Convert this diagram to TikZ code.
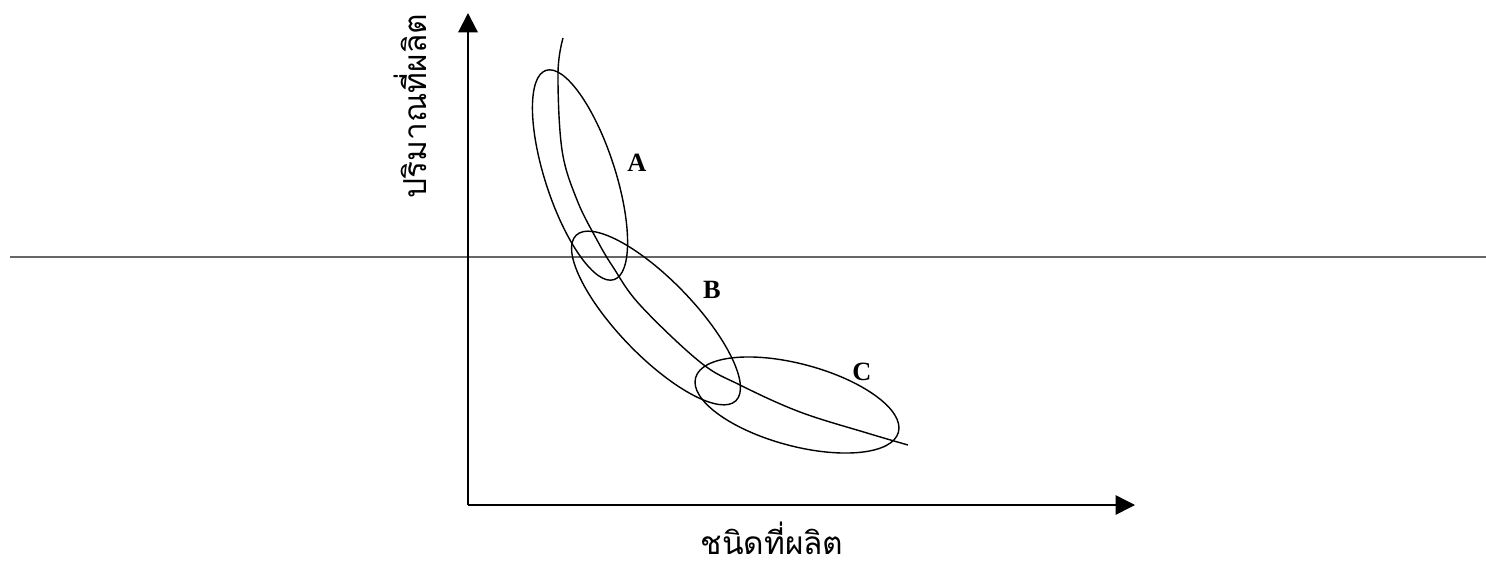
\documentclass[tikz,border=0pt]{standalone}
\usepackage{fontspec}
\setmainfont{Liberation Serif}
\newfontfamily\thaifont[Script=Thai]{Loma}
\usetikzlibrary{arrows.meta}

\begin{document}
\begin{tikzpicture}[x=0.02cm, y=-0.02cm,
    axis/.style={line width=1.2pt, -{Triangle[length=11pt, width=11pt]}},
    lot/.style={line width=0.8pt},
    lotname/.style={font=\bfseries\fontsize{15}{15}\selectfont, inner sep=0pt},
    axisname/.style={font=\thaifont\fontsize{18}{18}\selectfont, inner sep=0pt}]
  \useasboundingbox (0,0) rectangle (1486,568);
  % scan line
  \draw[black!60, line width=1.1pt] (10,257) -- (1486,257);
  % axes
  \coordinate (origin) at (468,505);
  \coordinate (ytip) at (468,13);
  \coordinate (xtip) at (1135,505);
  \draw[axis] (origin) -- (ytip);
  \draw[axis, line width=0.8pt] (origin) -- (xtip);
  \node[axisname, rotate=90] (qty) at (410,106) {ปริมาณที่ผลิต};
  \node[axisname] (kind) at (772,538) {ชนิดที่ผลิต};
  % production curve
  \draw[lot] plot[smooth, tension=0.6] coordinates {(563,38) (558,73) (562,150) (577,200) (597,240) (613,267) (640,305) (700,362) (740,385) (800,412) (867,433) (908,445)};
  % groups
  \draw[lot, rotate around={108:(580,175)}] (580,175) ellipse (110 and 35);
  \draw[lot, rotate around={-46:(656,318)}] (656,318) ellipse (115 and 38);
  \draw[lot, rotate around={-15:(797,405)}] (797,405) ellipse (105 and 41);
  \node[lotname] (A) at (637,163) {A};
  \node[lotname] (B) at (712,290) {B};
  \node[lotname] (C) at (862,372) {C};
\end{tikzpicture}
\end{document}
